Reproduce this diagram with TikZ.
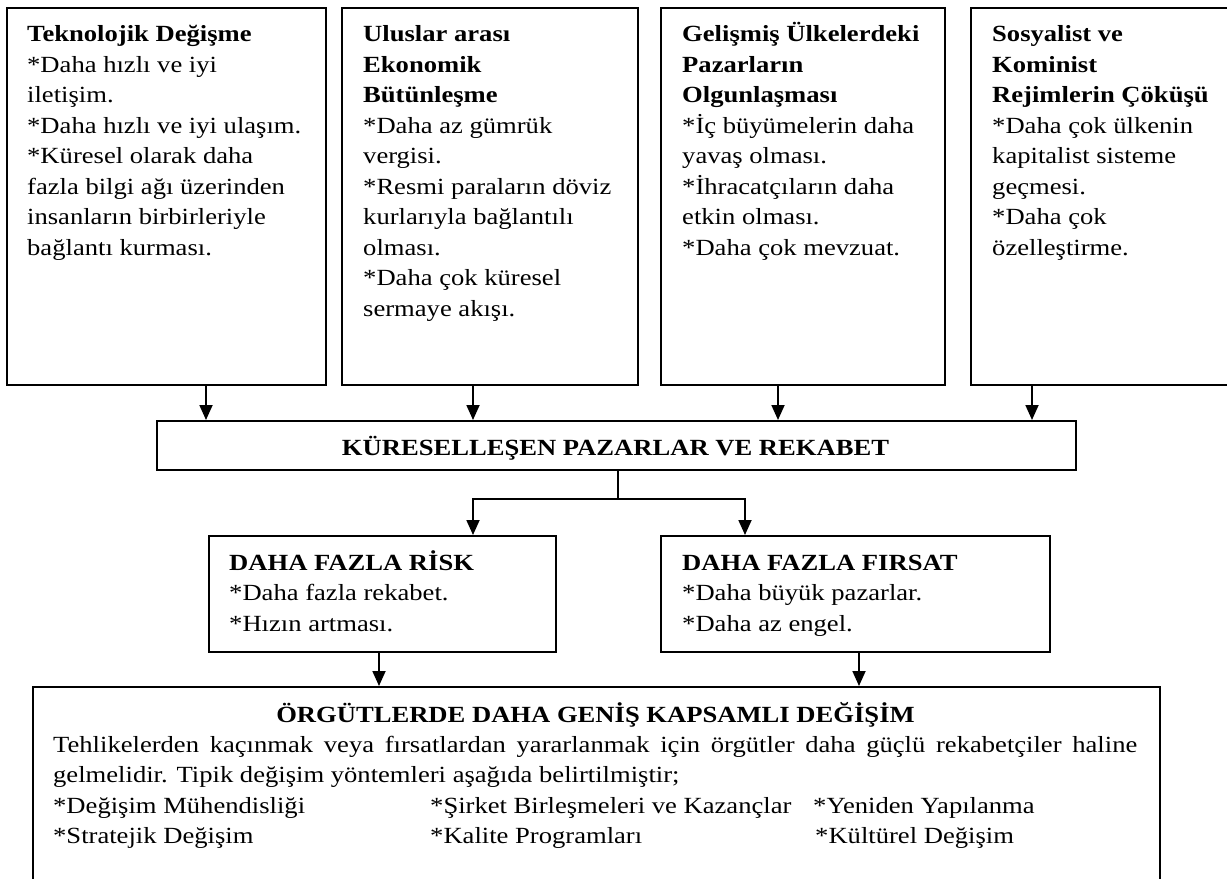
\documentclass[tikz,border=0pt]{standalone}
\usepackage{fontspec}
\setmainfont{Liberation Serif}
\usepackage{graphicx}
\usetikzlibrary{arrows.meta}
\newcommand{\txtblock}[1]{\scalebox{1}[0.87]{\begin{tabular}[t]{@{}l@{}}#1\end{tabular}}}
\newcommand{\txtline}[1]{\scalebox{1}[0.87]{#1}}
\newcommand{\nl}{\\\relax}
\tikzset{
  box/.style={draw, line width=1.8bp, inner sep=0pt, anchor=north west},
  txt/.style={inner sep=0pt, anchor=base west},
  arr/.style={line width=1.8bp, -{Triangle[width=13bp,length=15bp]}},
  conn/.style={line width=1.8bp},
  every node/.style={font=\fontsize{26.6bp}{35.06bp}\selectfont}
}
\begin{document}
\begin{tikzpicture}[x=1bp,y=-1bp]
\useasboundingbox (0,0) rectangle (1227,879);
\clip (0,0) rectangle (1227,879);
\fill[white] (0,0) rectangle (1227,879);

% top boxes
\node[box, minimum width=319bp, minimum height=377bp] (b1) at (6,7) {};
\node[box, minimum width=296bp, minimum height=377bp] (b2) at (341,7) {};
\node[box, minimum width=284bp, minimum height=377bp] (b3) at (660,7) {};
\node[box, minimum width=300bp, minimum height=377bp] (b4) at (970,7) {};

\node[txt] (t1) at (27,41.7) {\txtblock{\textbf{Teknolojik Değişme}\nl *Daha hızlı ve iyi\nl iletişim.\nl *Daha hızlı ve iyi ulaşım.\nl *Küresel olarak daha\nl fazla bilgi ağı üzerinden\nl insanların birbirleriyle\nl bağlantı kurması.}};
\node[txt] (t2) at (363,41.7) {\txtblock{\textbf{Uluslar arası}\nl \textbf{Ekonomik}\nl \textbf{Bütünleşme}\nl *Daha az gümrük\nl vergisi.\nl *Resmi paraların döviz\nl kurlarıyla bağlantılı\nl olması.\nl *Daha çok küresel\nl sermaye akışı.}};
\node[txt] (t3) at (682,41.7) {\txtblock{\textbf{Gelişmiş Ülkelerdeki}\nl \textbf{Pazarların}\nl \textbf{Olgunlaşması}\nl *İç büyümelerin daha\nl yavaş olması.\nl *İhracatçıların daha\nl etkin olması.\nl *Daha çok mevzuat.}};
\node[txt] (t4) at (992,41.7) {\txtblock{\textbf{Sosyalist ve}\nl \textbf{Kominist}\nl \textbf{Rejimlerin Çöküşü}\nl *Daha çok ülkenin\nl kapitalist sisteme\nl geçmesi.\nl *Daha çok\nl özelleştirme.}};

% central box
\node[box, minimum width=919bp, minimum height=49bp] (kp) at (156,420) {};
\node[inner sep=0pt, anchor=base] (kpt) at (615.5,455) {\txtline{\textbf{KÜRESELLEŞEN PAZARLAR VE REKABET}}};

% risk / opportunity
\node[box, minimum width=347bp, minimum height=116bp] (risk) at (208,535) {};
\node[box, minimum width=389bp, minimum height=116bp] (firsat) at (660,535) {};
\node[txt] (rt) at (229,570) {\txtblock{\textbf{DAHA FAZLA RİSK}\nl *Daha fazla rekabet.\nl *Hızın artması.}};
\node[txt] (ft) at (682,570) {\txtblock{\textbf{DAHA FAZLA FIRSAT}\nl *Daha büyük pazarlar.\nl *Daha az engel.}};

% bottom box
\node[box, minimum width=1127bp, minimum height=250bp] (org) at (32,686) {};
\node[inner sep=0pt, anchor=base] (ot) at (595.5,722) {\txtline{\textbf{ÖRGÜTLERDE DAHA GENİŞ KAPSAMLI DEĞİŞİM}}};
\node[txt] (op) at (53,752) {\txtblock{\makebox[1084bp][s]{Tehlikelerden kaçınmak veya fırsatlardan yararlanmak için örgütler daha güçlü rekabetçiler haline}\nl gelmelidir. Tipik değişim yöntemleri aşağıda belirtilmiştir;\nl \makebox[377bp][l]{*Değişim Mühendisliği}\makebox[383bp][l]{*Şirket Birleşmeleri ve Kazançlar}*Yeniden Yapılanma\nl \makebox[377bp][l]{*Stratejik Değişim}\makebox[385bp][l]{*Kalite Programları}*Kültürel Değişim}};

% connector x positions
\coordinate (x1) at (206,0);
\coordinate (x2) at (473,0);
\coordinate (x3) at (778,0);
\coordinate (x4) at (1032,0);
\coordinate (xs) at (618,0);
\coordinate (xr) at (379,0);
\coordinate (xf) at (859,0);
\coordinate (xo) at (745,0);
\coordinate (split) at (618,499);

\draw[arr] (b1.south -| x1) -- (kp.north -| x1);
\draw[arr] (b2.south -| x2) -- (kp.north -| x2);
\draw[arr] (b3.south -| x3) -- (kp.north -| x3);
\draw[arr] (b4.south -| x4) -- (kp.north -| x4);

\draw[conn] (kp.south -| xs) -- (split);
\draw[arr] (split) -| (risk.north -| x2);
\draw[arr] (split) -| (firsat.north -| xo);

\draw[arr] (risk.south -| xr) -- (org.north -| xr);
\draw[arr] (firsat.south -| xf) -- (org.north -| xf);
\end{tikzpicture}
\end{document}
